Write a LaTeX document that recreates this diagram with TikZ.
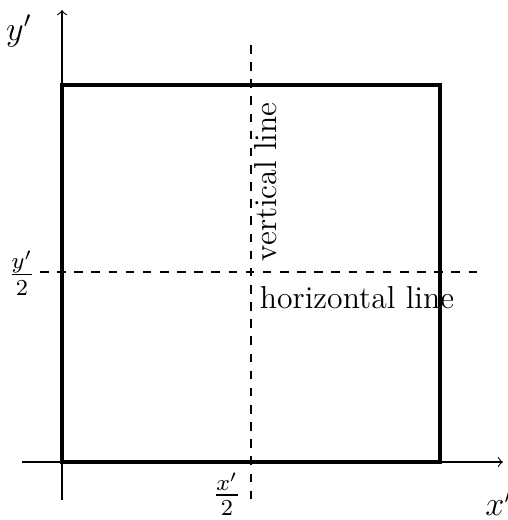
\documentclass[tikz,border=0pt]{standalone}
\begin{document}
\begin{tikzpicture}[x=0.35pt,y=-0.35pt,
  axis/.style={->,line width=0.4pt},
  sq/.style={line width=1.5pt},
  guide/.style={dashed,line width=0.4pt},
  lbl/.style={inner sep=0pt},
  txt/.style={lbl,font=\fontsize{11.1}{13}\selectfont}]
\useasboundingbox (0,0) rectangle (507,520);
\coordinate (xa0) at (22,462);
\coordinate (xa1) at (503,462);
\coordinate (ya0) at (62,500);
\coordinate (ya1) at (62,10);
\draw[axis] (xa0) -- (xa1);
\draw[axis] (ya0) -- (ya1);
\draw[sq] (62,85) rectangle (440,462);
\coordinate (v0) at (251,45);
\coordinate (v1) at (251,505);
\coordinate (h0) at (40,272);
\coordinate (h1) at (480,272);
\draw[guide] (v0) -- (v1);
\draw[guide] (h0) -- (h1);
\node[txt] (yl) at (19,31) {\large $y'$};
\node[txt] (xl) at (499,503) {\large $x'$};
\node[lbl] (yh) at (22,273) {\large $\frac{y'}{2}$};
\node[lbl] (xh) at (227,494) {\large $\frac{x'}{2}$};
\node[txt,rotate=90] (vl) at (266,182) {vertical line};
\node[txt] (hl) at (357,298) {horizontal line};
\end{tikzpicture}
\end{document}
